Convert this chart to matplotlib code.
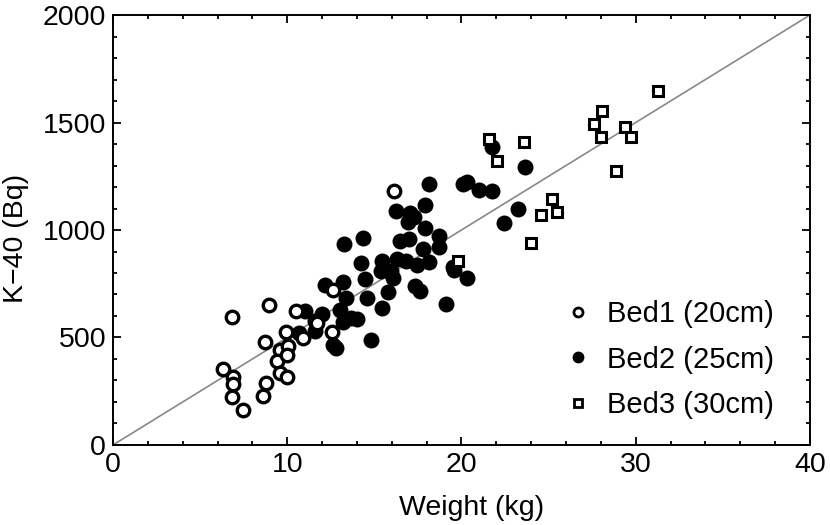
import matplotlib
matplotlib.use("Agg")
import matplotlib.pyplot as plt
from matplotlib.lines import Line2D
from matplotlib.ticker import MultipleLocator

plt.rcParams['font.family'] = ['Liberation Sans', 'DejaVu Sans']

bed1_x = [16.13, 8.95, 10.5, 12.63, 9.95, 12.57, 8.72, 11.7, 6.83, 9.58, 10.07,
          9.44, 9.98, 9.58, 9.98, 6.34, 6.89, 6.86, 8.78, 8.61, 6.83, 7.46, 10.9]
bed1_y = [1181, 653, 623, 719, 524, 524, 479, 567, 595, 440, 460,
          391, 419, 335, 316, 353, 316, 282, 288, 228, 221, 165, 498]

bed2_x = [21.75, 20.09, 20.3, 21.0, 21.75, 23.64, 23.24, 22.44, 18.7, 18.7, 19.5,
          18.13, 16.24, 17.04, 17.27, 16.93, 17.9, 17.9, 17.79, 16.47, 16.99,
          14.35, 13.26, 14.23, 15.44, 16.3, 16.8, 17.45, 18.15, 15.38, 15.95,
          16.07, 14.46, 13.2, 12.17, 17.33, 17.6, 15.78, 13.4, 14.58, 15.44,
          13.03, 13.66, 14.0, 13.2, 12.0, 11.0, 11.6, 11.6, 12.6, 12.8, 14.83,
          10.7, 19.57, 20.3, 19.1]
bed2_y = [1386, 1214, 1222, 1186, 1181, 1293, 1098, 1033, 972, 921, 828,
          1214, 1088, 1079, 1060, 1037, 1116, 1009, 912, 951, 960,
          963, 935, 847, 855, 865, 858, 837, 849, 810, 810,
          777, 770, 758, 742, 740, 714, 712, 684, 684, 637,
          628, 591, 588, 572, 610, 625, 578, 528, 465, 451, 490,
          521, 814, 777, 656]

bed3_x = [31.28, 28.06, 27.6, 28.0, 29.4, 29.7, 28.87, 21.58, 22.04, 23.59,
          25.19, 25.48, 24.56, 23.99, 19.8]
bed3_y = [1647, 1553, 1493, 1433, 1479, 1433, 1274, 1423, 1321, 1409,
          1144, 1084, 1070, 940, 856]

line_x = [0, 40]
line_y = [0, 2000]

fig = plt.figure(figsize=(8.3, 5.25), dpi=100)
ax = fig.add_axes([0.1361, 0.1524, 0.8398, 0.819])

ax.plot(line_x, line_y, color='#888888', lw=1.2, zorder=1)
ax.plot(bed1_x, bed1_y, 'o', ms=9.0, mfc='white', mec='black', mew=2.4, ls='none', zorder=3)
ax.plot(bed2_x, bed2_y, 'o', ms=11.5, mfc='black', mec='black', mew=0, ls='none', zorder=2)
ax.plot(bed3_x, bed3_y, 's', ms=7.6, mfc='white', mec='black', mew=2.2, ls='none', zorder=3)

ax.set_xlim(0, 40)
ax.set_ylim(0, 2000)
ax.xaxis.set_major_locator(MultipleLocator(10))
ax.xaxis.set_minor_locator(MultipleLocator(2))
ax.yaxis.set_major_locator(MultipleLocator(500))
ax.yaxis.set_minor_locator(MultipleLocator(100))
ax.tick_params(which='both', direction='in', top=True, right=True, width=1.3,
               labelsize=20.5, colors='black')
ax.tick_params(which='major', length=5.5)
ax.tick_params(axis='x', which='major', pad=5)
ax.tick_params(axis='y', which='major', pad=5)
ax.tick_params(which='minor', length=3)
for s in ax.spines.values():
    s.set_linewidth(1.4)

ax.set_xlabel('Weight (kg)', fontsize=20.5, labelpad=12)
ax.xaxis.label.set_x(0.515)
ax.set_ylabel('K\u221240 (Bq)', fontsize=20.5, labelpad=10)
ax.yaxis.label.set_y(0.48)

handles = [
    Line2D([], [], marker='o', ls='none', ms=6.5, mfc='white', mec='black', mew=2.0),
    Line2D([], [], marker='o', ls='none', ms=8.5, mfc='black', mec='black', mew=0),
    Line2D([], [], marker='s', ls='none', ms=6.0, mfc='white', mec='black', mew=2.0),
]
labels = ['Bed1 (20cm)', 'Bed2 (25cm)', 'Bed3 (30cm)']
ax.legend(handles, labels, loc='lower right', bbox_to_anchor=(0.965, 0.033),
          frameon=False, fontsize=21, labelspacing=0.6, handletextpad=0.5,
          handlelength=1.0, borderaxespad=0)

fig.savefig('out.png', dpi=100)
